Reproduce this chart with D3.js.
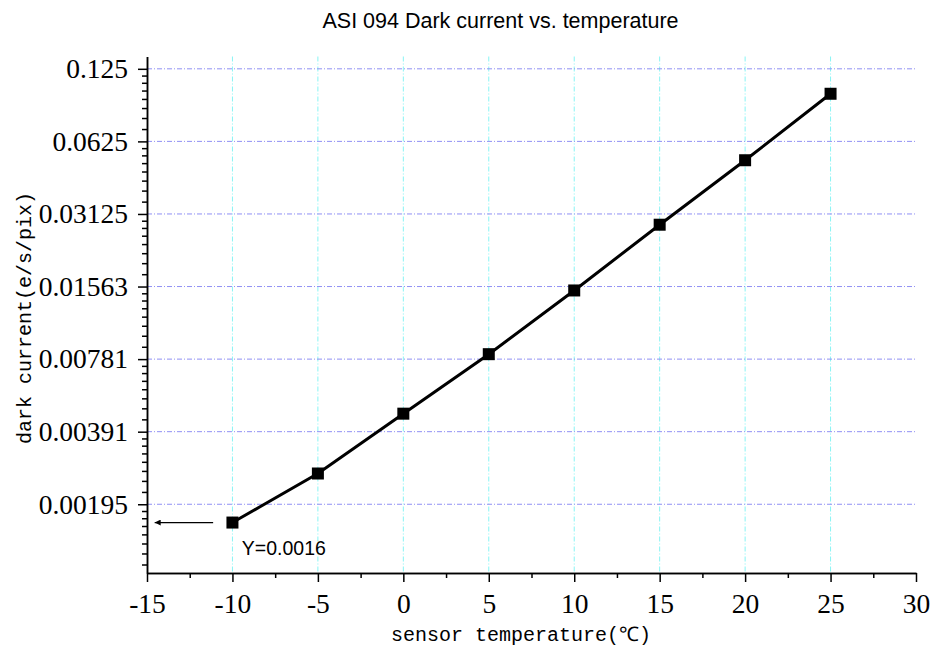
<!DOCTYPE html>
<html><head><meta charset="utf-8">
<script src="https://cdn.jsdelivr.net/npm/d3@7"></script>
<style>body{margin:0;background:#fff}svg{display:block}</style>
</head><body>
<svg id="c" width="933" height="648"></svg>
<script>
const temperatures = [-10, -5, 0, 5, 10, 15, 20, 25];
const darkCurrent = [0.00164, 0.00262, 0.00464, 0.00819, 0.01505, 0.0282, 0.0522, 0.0985];
const xTicks = [-15, -10, -5, 0, 5, 10, 15, 20, 25, 30];
const yTickValues = [0.001953125, 0.00390625, 0.0078125, 0.015625, 0.03125, 0.0625, 0.125];
const yTickLabels = ["0.00195", "0.00391", "0.00781", "0.01563", "0.03125", "0.0625", "0.125"];
const title = "ASI 094 Dark current vs. temperature";
const xTitle = "sensor temperature(℃)";
const yTitle = "dark current(e/s/pix)";
const annotationText = "Y=0.0016";

const svg = d3.select("#c");
const L = 147, R = 916, T = 56.5, B = 573;
const x = d3.scaleLinear().domain([-15, 30]).range([L, R]);
const y = d3.scaleLog().base(2).domain([0.001013, 0.1406]).range([B, T]);

// grid
const g = svg.append("g");
g.selectAll(".vg").data(xTicks.filter(v => v > -15 && v < 30)).enter().append("line")
  .attr("x1", d => x(d)).attr("x2", d => x(d)).attr("y1", T).attr("y2", B)
  .attr("stroke", "#88f4f4").attr("stroke-width", 1).attr("stroke-dasharray", "5,2,1,2");
g.selectAll(".hg").data(yTickValues).enter().append("line")
  .attr("x1", L).attr("x2", R).attr("y1", d => y(d)).attr("y2", d => y(d))
  .attr("stroke", "#9090f4").attr("stroke-width", 1).attr("stroke-dasharray", "5,2,1,2");

// minor y ticks (linear subdivisions in each octave)
const yMinor = [];
[0.0009765625, ...yTickValues].forEach(m => {
  for (let k = 1; k < 8; k++) { const v = m + k * m / 8; if (v >= y.domain()[0] && v <= y.domain()[1]) yMinor.push(v); }
});
const xMinor = d3.range(-12.5, 30, 5);

const axStyle = sel => {
  sel.selectAll("path,line").attr("stroke", "#000").attr("stroke-width", 1.5);
  sel.selectAll("text").attr("font-family", "'Liberation Serif','Times New Roman',serif").attr("font-size", 27.5).attr("fill", "#000");
};

svg.append("g").attr("transform", `translate(0,${B})`)
  .call(d3.axisBottom(x).tickValues(xMinor).tickSize(5).tickSizeOuter(0).tickFormat(""))
  .call(axStyle);
svg.append("g").attr("transform", `translate(0,${B})`)
  .call(d3.axisBottom(x).tickValues(xTicks).tickSize(9).tickSizeOuter(0).tickPadding(11).tickFormat(d3.format("d")))
  .call(axStyle);
svg.append("g").attr("transform", `translate(${L},0)`)
  .call(d3.axisLeft(y).tickValues(yMinor).tickSize(5).tickSizeOuter(0).tickFormat(""))
  .call(axStyle);
svg.append("g").attr("transform", `translate(${L},0)`)
  .call(d3.axisLeft(y).tickValues(yTickValues).tickSize(9).tickSizeOuter(0).tickPadding(10)
    .tickFormat((d, i) => yTickLabels[yTickValues.indexOf(d)]))
  .call(axStyle);
svg.selectAll("text").each(function(){ const t=d3.select(this); t.text(t.text().replace("−","-")); });

// line + markers
const pts = temperatures.map((t, i) => [t, darkCurrent[i]]);
svg.append("path").datum(pts)
  .attr("d", d3.line().x(d => x(d[0])).y(d => y(d[1])))
  .attr("fill", "none").attr("stroke", "#000").attr("stroke-width", 3);
svg.selectAll(".m").data(pts).enter().append("rect")
  .attr("x", d => x(d[0]) - 6).attr("y", d => y(d[1]) - 6)
  .attr("width", 12).attr("height", 12).attr("fill", "#000");

// annotation arrow
const ay = y(darkCurrent[0]);
svg.append("defs").append("marker").attr("id", "ah").attr("viewBox", "0 0 10 10")
  .attr("refX", 10).attr("refY", 5).attr("markerWidth", 9).attr("markerHeight", 6)
  .attr("markerUnits", "userSpaceOnUse").attr("orient", "auto")
  .append("path").attr("d", "M0,0 L10,5 L0,10 Z").attr("fill", "#000");
svg.append("line").attr("x1", x(-11.13)).attr("x2", x(-14.55)).attr("y1", ay).attr("y2", ay)
  .attr("stroke", "#000").attr("stroke-width", 1.3).attr("marker-end", "url(#ah)");
svg.append("text").attr("x", x(-9.45)).attr("y", 555).text(annotationText)
  .attr("font-family", "'Liberation Sans',Arial,sans-serif").attr("font-size", 19.5).attr("fill", "#000");

// titles
svg.append("text").attr("x", 500.5).attr("y", 28).attr("text-anchor", "middle").text(title)
  .attr("font-family", "'Liberation Sans',Arial,sans-serif").attr("font-size", 21.5).attr("fill", "#000");
svg.append("text").attr("x", 521).attr("y", 641).attr("text-anchor", "middle").text(xTitle)
  .attr("font-family", "'Liberation Mono','Courier New',monospace").attr("font-size", 20).attr("fill", "#000");
svg.append("text").attr("transform", "translate(31,318) rotate(-90)").attr("text-anchor", "middle").text(yTitle)
  .attr("font-family", "'Liberation Mono','Courier New',monospace").attr("font-size", 20).attr("fill", "#000");
</script>
</body></html>
